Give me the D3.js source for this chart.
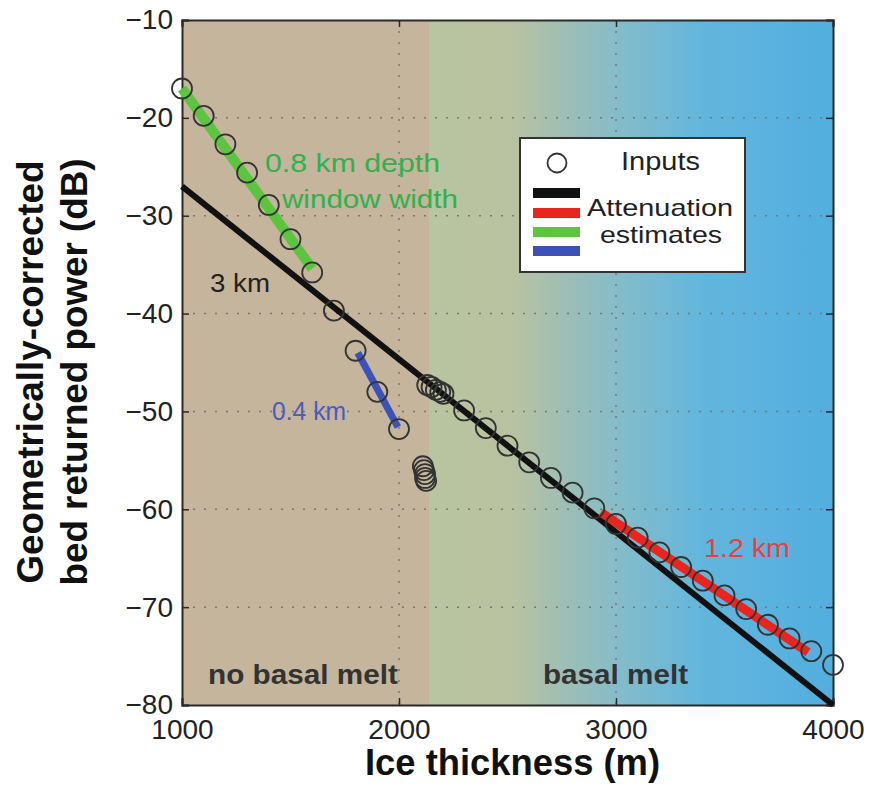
<!DOCTYPE html>
<html><head><meta charset="utf-8">
<script src="https://cdn.jsdelivr.net/npm/d3@7/dist/d3.min.js"></script>
<style>
body{margin:0;background:#fff}
svg{display:block}
text{font-family:"Liberation Sans",Arial,Helvetica,sans-serif}
</style>
</head><body>
<svg id="chart" width="869" height="791"></svg>
<script>
// ---- data ----
const inputThickness = [1000,1100,1200,1300,1400,1500,1600,1700,1800,1900,2000,
  2110,2115,2120,2120,2125,
  2130,2150,2170,2190,2205,
  2300,2400,2500,2600,2700,2800,2900,3000,3100,3200,3300,3400,3500,3600,3700,3800,3900,4000];
const inputPower = [-17.0,-19.8,-22.7,-25.6,-28.9,-32.4,-35.8,-39.7,-43.8,-48.0,-51.8,
  -55.6,-56.0,-56.4,-56.8,-57.1,
  -47.3,-47.5,-47.8,-48.0,-48.2,
  -49.9,-51.7,-53.5,-55.2,-56.8,-58.3,-59.9,-61.5,-62.9,-64.4,-65.9,-67.3,-68.8,-70.2,-71.8,-73.2,-74.5,-75.9];

const estNames  = ["3 km","1.2 km","0.8 km","0.4 km"];
const estStartX = [1000, 2930, 1000, 1810];
const estStartY = [-27.0, -60.3, -17.0, -44.0];
const estEndX   = [4000, 3885, 1600, 1995];
const estEndY   = [-80.0, -74.6, -35.4, -51.6];

const xTicks = [1000,2000,3000,4000];
const yTicks = [-10,-20,-30,-40,-50,-60,-70,-80];

const meltBoundary = 2140;
const legendLabels = ["Inputs","Attenuation","estimates"];

// ---- styles ----
const estColors = ["#111111","#e8261f","#5cc43e","#3c52b6"];
const estWidths = [6, 9, 10, 7];

const svg = d3.select("#chart");
const m = {left:182, top:20, right:36, bottom:86};
const W = 869 - m.left - m.right, H = 791 - m.top - m.bottom;

const x = d3.scaleLinear().domain([1000,4000]).range([m.left, m.left+W]);
const y = d3.scaleLinear().domain([-80,-10]).range([m.top+H, m.top]);

// background gradient
const defs = svg.append("defs");
const grad = defs.append("linearGradient").attr("id","bg")
  .attr("gradientUnits","userSpaceOnUse")
  .attr("x1", x(1000)).attr("x2", x(4000)).attr("y1",0).attr("y2",0);
const stops = [[1000,"#c4b59c"],[meltBoundary,"#c4b59c"],[meltBoundary,"#b9c4a1"],
  [2530,"#b9c2a0"],[2750,"#9fbeb4"],[3000,"#86bcc8"],[3400,"#62b6dd"],[4000,"#52aedf"]];
stops.forEach(s => grad.append("stop")
  .attr("offset", (x(s[0])-x(1000))/(x(4000)-x(1000))).attr("stop-color", s[1]));

svg.append("rect").attr("x",x(1000)).attr("y",y(-10))
  .attr("width",x(4000)-x(1000)).attr("height",y(-80)-y(-10)).attr("fill","url(#bg)");

// grid
const grid = svg.append("g").attr("stroke","#777").attr("stroke-width",1.5)
  .attr("stroke-dasharray","2,9");
grid.selectAll(".gx").data(xTicks.slice(1,-1)).join("line")
  .attr("x1",d=>x(d)).attr("x2",d=>x(d)).attr("y1",y(-10)).attr("y2",y(-80));
grid.selectAll(".gy").data(yTicks.slice(1,-1)).join("line")
  .attr("y1",d=>y(d)).attr("y2",d=>y(d)).attr("x1",x(1000)).attr("x2",x(4000));

// axes
const fmt = d => d < 0 ? "\u2212" + Math.abs(d) : String(d);
const gx = svg.append("g").attr("transform",`translate(0,${y(-80)})`)
  .call(d3.axisBottom(x).tickValues(xTicks).tickSize(-7).tickPadding(14).tickFormat(fmt));
const gy = svg.append("g").attr("transform",`translate(${x(1000)},0)`)
  .call(d3.axisLeft(y).tickValues(yTicks).tickSize(-7).tickPadding(9).tickFormat(fmt));
const gxt = svg.append("g").attr("transform",`translate(0,${y(-10)})`)
  .call(d3.axisTop(x).tickValues(xTicks).tickSize(-7).tickFormat(""));
const gyr = svg.append("g").attr("transform",`translate(${x(4000)},0)`)
  .call(d3.axisRight(y).tickValues(yTicks).tickSize(-7).tickFormat(""));
[gx,gy,gxt,gyr].forEach(g=>{
  g.select(".domain").attr("stroke","#2a2a2a").attr("stroke-width",2);
  g.selectAll(".tick line").attr("stroke","#2a2a2a").attr("stroke-width",1.5);
  g.selectAll("text").attr("font-size",28).attr("fill","#222")
    .attr("font-family","'Liberation Sans',Arial,sans-serif");
});

// estimate lines
svg.append("g").selectAll("line").data(estNames).join("line")
  .attr("x1",(d,i)=>x(estStartX[i])).attr("y1",(d,i)=>y(estStartY[i]))
  .attr("x2",(d,i)=>x(estEndX[i])).attr("y2",(d,i)=>y(estEndY[i]))
  .attr("stroke",(d,i)=>estColors[i]).attr("stroke-width",(d,i)=>estWidths[i]);

// inputs
svg.append("g").selectAll("circle").data(inputThickness).join("circle")
  .attr("cx",d=>x(d)).attr("cy",(d,i)=>y(inputPower[i])).attr("r",10)
  .attr("fill","none").attr("stroke","#333").attr("stroke-width",1.8);

// annotations
const ann = [
  {t:"0.8 km depth", x:265, y:172, c:"#2fb14c", w:175},
  {t:"window width", x:282, y:208, c:"#2fb14c", w:176},
  {t:"3 km", x:210, y:292, c:"#222", w:60},
  {t:"0.4 km", x:272, y:420, c:"#4a5bc0", w:74},
  {t:"1.2 km", x:704, y:557, c:"#e8403a", w:86}
];
svg.append("g").selectAll("text").data(ann).join("text")
  .attr("x",d=>d.x).attr("y",d=>d.y).attr("fill",d=>d.c).attr("font-size",26)
  .attr("textLength",d=>d.w).attr("lengthAdjust","spacingAndGlyphs").text(d=>d.t);

svg.append("text").attr("x",208).attr("y",684).attr("font-size",28).attr("font-weight","bold")
  .attr("textLength",190).attr("lengthAdjust","spacingAndGlyphs")
  .attr("fill","#333").text("no basal melt");
svg.append("text").attr("x",543).attr("y",684).attr("font-size",28).attr("font-weight","bold")
  .attr("textLength",145).attr("lengthAdjust","spacingAndGlyphs")
  .attr("fill","#333").text("basal melt");

// legend
const lg = svg.append("g");
lg.append("rect").attr("x",520).attr("y",138).attr("width",225).attr("height",134)
  .attr("fill","#fff").attr("stroke","#333").attr("stroke-width",2);
lg.append("circle").attr("cx",557).attr("cy",163).attr("r",9.5)
  .attr("fill","none").attr("stroke","#333").attr("stroke-width",1.8);
lg.append("text").attr("x",621).attr("y",170).attr("font-size",26).attr("fill","#222")
  .attr("textLength",79).attr("lengthAdjust","spacingAndGlyphs").text(legendLabels[0]);
[193,213,232,251].forEach((yy,i)=>{
  lg.append("line").attr("x1",533).attr("x2",580).attr("y1",yy).attr("y2",yy)
    .attr("stroke",estColors[i]).attr("stroke-width",10);
});
lg.append("text").attr("x",587).attr("y",216).attr("font-size",24).attr("fill","#222")
  .attr("textLength",146).attr("lengthAdjust","spacingAndGlyphs").text(legendLabels[1]);
lg.append("text").attr("x",600).attr("y",243).attr("font-size",24).attr("fill","#222")
  .attr("textLength",122).attr("lengthAdjust","spacingAndGlyphs").text(legendLabels[2]);

// axis titles
svg.append("text").attr("x",(x(1000)+x(4000))/2+5).attr("y",775).attr("text-anchor","middle")
  .attr("font-size",36).attr("font-weight","bold").attr("fill","#111")
  .attr("textLength",295).attr("lengthAdjust","spacingAndGlyphs").text("Ice thickness (m)");
svg.append("text").attr("transform","translate(43,372) rotate(-90)").attr("text-anchor","middle")
  .attr("font-size",36).attr("font-weight","bold").attr("fill","#111")
  .attr("textLength",423).attr("lengthAdjust","spacingAndGlyphs").text("Geometrically-corrected");
svg.append("text").attr("transform","translate(87,372) rotate(-90)").attr("text-anchor","middle")
  .attr("font-size",36).attr("font-weight","bold").attr("fill","#111")
  .attr("textLength",427).attr("lengthAdjust","spacingAndGlyphs").text("bed returned power (dB)");
</script>
</body></html>
